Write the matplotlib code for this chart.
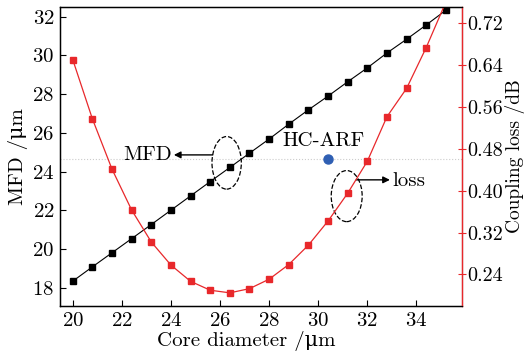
import matplotlib
matplotlib.use("Agg")
import matplotlib.pyplot as plt
from matplotlib.patches import Ellipse
import numpy as np

plt.rcParams['font.family'] = ['cmr10', 'DejaVu Serif']
plt.rcParams['axes.formatter.use_mathtext'] = True
plt.rcParams['font.size'] = 15

# core diameter (um)
core_d = [20.0, 20.8, 21.6, 22.4, 23.2, 24.0, 24.8, 25.6, 26.4, 27.2,
          28.0, 28.8, 29.6, 30.4, 31.2, 32.0, 32.8, 33.6, 34.4, 35.2]

# mode field diameter (um)
mfd = [18.33, 19.07, 19.80, 20.53, 21.26, 22.00, 22.74, 23.48, 24.21, 24.95,
       25.68, 26.45, 27.19, 27.90, 28.64, 29.36, 30.13, 30.84, 31.58, 32.34]

# coupling loss (dB)
loss = [0.650, 0.537, 0.441, 0.363, 0.302, 0.258, 0.227, 0.210, 0.205, 0.213,
        0.231, 0.259, 0.296, 0.342, 0.395, 0.456, 0.541, 0.595, 0.673, 0.760]

# HC-ARF reference point
hc_x = 30.4
hc_mfd = 24.66

red = '#e8282b'
blue = '#2f5fb3'

fig = plt.figure(figsize=(5.26, 3.57), dpi=100)
ax1 = fig.add_axes([0.114, 0.143, 0.764, 0.837])
ax2 = ax1.twinx()

ax1.axhline(hc_mfd, color='#cccccc', lw=0.8, ls=':', zorder=0)
ax1.plot(core_d, mfd, '-s', color='black', lw=0.8, ms=4.2, zorder=3)
ax1.plot([hc_x], [hc_mfd], 'o', color=blue, ms=6.5, zorder=4)

ax2.plot(core_d, loss, '-s', color=red, lw=0.9, ms=4.4, mfc=red, mec=red)

ax1.set_xlim(19.48, 35.85)
ax1.set_ylim(17.05, 32.5)
ax2.set_ylim(0.180, 0.750)

ax1.set_xticks(np.arange(20, 35, 2))
ax1.set_yticks(np.arange(18, 33, 2))
ax2.set_yticks([0.24, 0.32, 0.40, 0.48, 0.56, 0.64, 0.72])
ax2.set_yticklabels(['0.24', '0.32', '0.40', '0.48', '0.56', '0.64', '0.72'])

ax1.tick_params(axis='both', direction='in', length=4, width=0.8, pad=4)
ax2.tick_params(axis='y', direction='inout', length=6, width=0.8,
                labelcolor='black', color=red, pad=1, labelsize=14.5)

ax2.spines['right'].set_color(red)
for s in ['left', 'bottom', 'top']:
    ax1.spines[s].set_linewidth(1.0)
ax2.spines['right'].set_linewidth(1.0)

ax1.set_xlabel('Core diameter /\u03bcm', labelpad=1)
ax1.xaxis.set_label_coords(0.464, -0.085)
ax1.set_ylabel('MFD /\u03bcm', labelpad=3)
ax2.set_ylabel('Coupling loss /dB', fontsize=14)
ax2.yaxis.set_label_coords(1.108, 0.5)

# annotations
ax1.add_patch(Ellipse((26.27, 24.45), 1.195, 2.72, fill=False, ls='--',
                      lw=0.9, color='black', zorder=5))
ax1.add_patch(Ellipse((31.16, 22.73), 1.26, 2.64, fill=False, ls='--',
                      lw=0.9, color='black', zorder=5))
ax1.annotate('', xy=(24.12, 24.86), xytext=(25.70, 24.86),
             arrowprops=dict(arrowstyle='-|>', color='black', lw=1.0,
                             mutation_scale=10, shrinkA=0, shrinkB=0))
ax1.text(24.02, 24.86, 'MFD', ha='right', va='center')
ax1.annotate('', xy=(32.92, 23.57), xytext=(31.55, 23.57),
             arrowprops=dict(arrowstyle='-|>', color='black', lw=1.0,
                             mutation_scale=10, shrinkA=0, shrinkB=0))
ax1.text(33.01, 23.52, 'loss', ha='left', va='center')
ax1.text(30.21, 25.6, 'HC-ARF', ha='center', va='center')

fig.savefig('out.png', dpi=100)
